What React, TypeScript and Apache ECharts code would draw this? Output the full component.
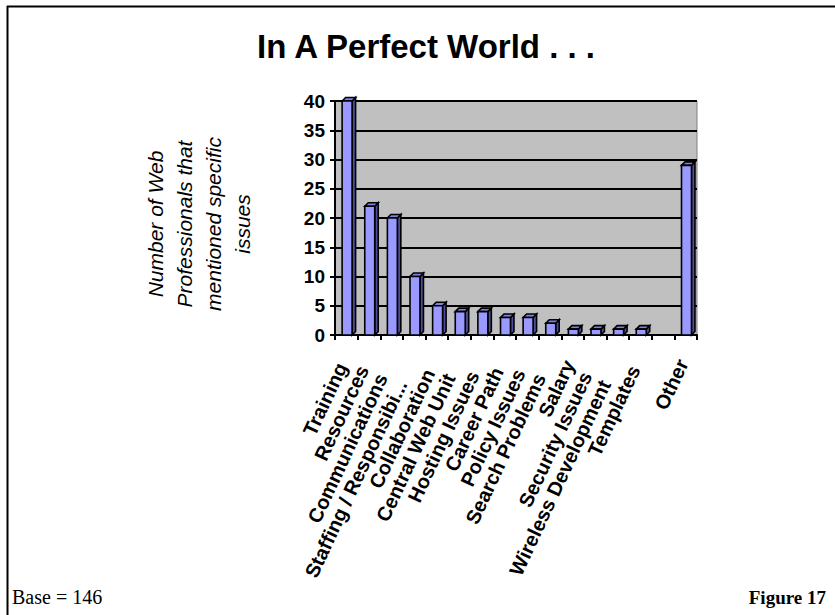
import React, { useEffect, useRef } from "react";
import * as echarts from "echarts";

// Survey responses: issues raised by web professionals
const categories: string[] = [
  "Training",
  "Resources",
  "Communications",
  "Staffing / Responsibi...",
  "Collaboration",
  "Central Web Unit",
  "Hosting Issues",
  "Career Path",
  "Policy Issues",
  "Search Problems",
  "Salary",
  "Security Issues",
  "Wireless Development",
  "Templates",
  "",
  "Other",
];
const mentions: (number | null)[] = [40, 22, 20, 10, 5, 4, 4, 3, 3, 2, 1, 1, 1, 1, null, 29];
const yTicks = { min: 0, max: 40, interval: 5 };

const titleText = "In A Perfect World . . .";
const yAxisTitle = ["Number of Web", "Professionals that", "mentioned specific", "issues"];
const baseNote = "Base = 146";
const figureNote = "Figure 17";

const FRONT = "#9999FF";
const SIDE = "#4D4D99";
const TOP = "#8080E0";
const SANS = "'Liberation Sans', Arial, sans-serif";
const SERIF = "'Liberation Serif', 'Times New Roman', serif";
const X_LABEL_FONT = `bold 20px ${SANS}`;

// Longer category labels sit further down along their slant
function labelSlide(text: string): number {
  const ctx = document.createElement("canvas").getContext("2d");
  if (!ctx) return 0;
  ctx.font = X_LABEL_FONT;
  return Math.round(ctx.measureText(text).width * 0.14);
}

export default function App() {
  const ref = useRef<HTMLDivElement>(null);

  useEffect(() => {
    if (!ref.current) return;
    const chart = echarts.init(ref.current, null, { renderer: "svg" });

    const barData = mentions
      .map((v, i) => (v == null ? null : [i, v]))
      .filter((d) => d !== null) as number[][];

    const labelRich: Record<string, any> = {};
    categories.forEach((c, i) => {
      labelRich[`c${i}`] = {
        fontFamily: SANS,
        fontWeight: "bold",
        fontSize: 20,
        color: "#000",
        padding: [0, labelSlide(c), 0, 0],
      };
    });

    // 3D-style column: front face, shaded right side, and a top cap
    const renderBar = (params: any, api: any) => {
      const idx = api.value(0);
      const val = api.value(1);
      const top = api.coord([idx, val]);
      const base = api.coord([idx, 0]);
      const band = api.size([1, 0])[0];
      const w = band * 0.44;
      const d = 3.5;
      const x = top[0] - w * 0.42;
      const y = top[1];
      const yb = base[1];
      const stroke = { stroke: "#000", lineWidth: 1.6 };
      return {
        type: "group",
        children: [
          {
            type: "polygon",
            shape: { points: [[x + w, y], [x + w + d, y - d], [x + w + d, yb - d], [x + w, yb]] },
            style: { fill: SIDE, ...stroke },
          },
          {
            type: "polygon",
            shape: { points: [[x, y], [x + d, y - d], [x + w + d, y - d], [x + w, y]] },
            style: { fill: TOP, ...stroke },
          },
          {
            type: "rect",
            shape: { x, y, width: w, height: yb - y },
            style: { fill: FRONT, ...stroke },
          },
        ],
      };
    };

    chart.setOption({
      animation: false,
      backgroundColor: "#FFFFFF",
      grid: {
        left: 335,
        right: 138,
        top: 101,
        bottom: 280,
        show: true,
        backgroundColor: "#C0C0C0",
        borderColor: "#808080",
        borderWidth: 1,
      },
      xAxis: {
        type: "category",
        data: categories,
        boundaryGap: true,
        axisLine: { lineStyle: { color: "#000", width: 2 } },
        axisTick: { show: true, interval: 0, length: 5, lineStyle: { color: "#000", width: 2 } },
        axisLabel: {
          interval: 0,
          rotate: 65,
          margin: 19,
          verticalAlign: "middle",
          color: "#000",
          fontFamily: SANS,
          fontWeight: "bold",
          fontSize: 20,
          formatter: (value: string, index: number) => (value ? `{c${index}|${value}}` : ""),
          rich: labelRich,
        },
      },
      yAxis: {
        type: "value",
        min: yTicks.min,
        max: yTicks.max,
        interval: yTicks.interval,
        axisLine: { show: true, lineStyle: { color: "#000", width: 2 } },
        axisTick: { show: true, length: 5, lineStyle: { color: "#000", width: 2 } },
        splitLine: { show: true, lineStyle: { color: "#000", width: 2 } },
        axisLabel: {
          margin: 10,
          color: "#000",
          fontFamily: SANS,
          fontWeight: "bold",
          fontSize: 19,
        },
      },
      series: [
        {
          type: "custom",
          renderItem: renderBar,
          encode: { x: 0, y: 1 },
          data: barData,
        },
      ],
      graphic: [
        // page frame (top and left rules)
        { type: "line", shape: { x1: 7, y1: 6.5, x2: 835, y2: 6.5 }, style: { stroke: "#000", lineWidth: 2 } },
        { type: "line", shape: { x1: 7.5, y1: 6, x2: 7.5, y2: 615 }, style: { stroke: "#000", lineWidth: 2 } },
        {
          type: "text",
          x: 426,
          y: 46,
          style: {
            text: titleText,
            textAlign: "center",
            textVerticalAlign: "middle",
            fill: "#000",
            font: `bold 33px ${SANS}`,
          },
        },
        {
          type: "text",
          x: 199,
          y: 224,
          rotation: Math.PI / 2,
          style: {
            text: yAxisTitle.join("\n"),
            textAlign: "center",
            textVerticalAlign: "middle",
            lineHeight: 29,
            fill: "#000",
            font: `italic 21px ${SANS}`,
          },
        },
        {
          type: "text",
          x: 12,
          y: 597,
          style: {
            text: baseNote,
            textAlign: "left",
            textVerticalAlign: "middle",
            fill: "#000",
            font: `20px ${SERIF}`,
          },
        },
        {
          type: "text",
          x: 826,
          y: 597,
          style: {
            text: figureNote,
            textAlign: "right",
            textVerticalAlign: "middle",
            fill: "#000",
            font: `bold 19px ${SERIF}`,
          },
        },
      ],
    });

    return () => chart.dispose();
  }, []);

  return (
    <div
      ref={ref}
      style={{ position: "fixed", left: 0, top: 0, width: 835, height: 615, background: "#fff" }}
    />
  );
}
